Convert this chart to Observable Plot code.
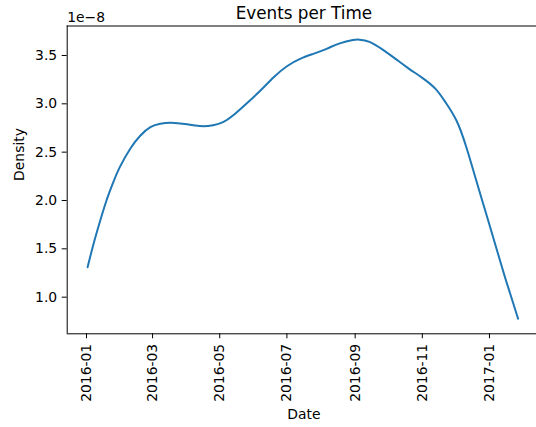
<!DOCTYPE html>
<html>
<head>
<meta charset="utf-8">
<script src="https://cdn.jsdelivr.net/npm/d3@7"></script>
<script src="https://cdn.jsdelivr.net/npm/@observablehq/plot@0.6"></script>
<style>
  html, body { margin: 0; padding: 0; background: #fff; }
  #chart { width: 536px; height: 427px; }
</style>
</head>
<body>
<div id="chart"></div>
<script>
// Data (density in units of 1e-8)
const dates = [
  "2016-01-02","2016-01-07","2016-01-13","2016-01-19","2016-01-25","2016-01-31",
  "2016-02-10","2016-02-19","2016-02-28","2016-03-08","2016-03-17","2016-03-26",
  "2016-04-07","2016-04-16","2016-04-25","2016-05-04","2016-05-13","2016-05-25",
  "2016-06-07","2016-06-19","2016-07-01","2016-07-13","2016-07-25","2016-08-06",
  "2016-08-18","2016-08-30","2016-09-05","2016-09-14","2016-09-26","2016-10-08",
  "2016-10-20","2016-11-01","2016-11-13","2016-11-22","2016-12-02","2016-12-11",
  "2016-12-20","2016-12-29","2017-01-07","2017-01-16","2017-01-27"
];
const density = [
  1.310, 1.535, 1.775, 1.995, 2.180, 2.340,
  2.540, 2.672, 2.758, 2.793, 2.803, 2.796,
  2.779, 2.768, 2.779, 2.810, 2.879, 3.000,
  3.138, 3.275, 3.389, 3.465, 3.517, 3.569,
  3.625, 3.660, 3.664, 3.640, 3.560, 3.462,
  3.362, 3.269, 3.155, 3.017, 2.827, 2.551,
  2.207, 1.862, 1.517, 1.173, 0.777
];
const xTicks = ["2016-01-01","2016-03-01","2016-05-01","2016-07-01","2016-09-01","2016-11-01","2017-01-01"];
const yTicks = [1.0, 1.5, 2.0, 2.5, 3.0, 3.5];
const xDomain = ["2015-12-14T11:00:00Z", "2017-02-12T17:00:00Z"];
const yDomain = [0.621, 3.805];
const title = "Events per Time";
const xLabel = "Date";
const yLabel = "Density";
const offsetText = "1e\u22128";

const data = dates.map((d, i) => ({date: new Date(d + "T00:00:00Z"), value: density[i]}));
const xd = xDomain.map(d => new Date(d));

const plot = Plot.plot({
  width: 536,
  height: 427,
  marginLeft: 66.7,
  marginRight: 0,
  marginTop: 25.5,
  marginBottom: 93.7,
  style: {fontFamily: "'DejaVu Sans', sans-serif", fontSize: "13.9px", color: "#000", background: "#fff"},
  x: {type: "utc", domain: xd},
  y: {domain: yDomain},
  marks: [
    Plot.line(data, {x: "date", y: "value", stroke: "#1f77b4", strokeWidth: 2, curve: "natural"}),
    Plot.ruleX([xd[0]], {stroke: "#000", strokeWidth: 1}),
    Plot.ruleY(yDomain, {stroke: "#000", strokeWidth: 1}),
    Plot.axisX({
      ticks: xTicks.map(d => new Date(d + "T00:00:00Z")),
      tickFormat: d3.utcFormat("%Y-%m"),
      tickRotate: -90,
      tickSize: 5,
      tickPadding: 5,
      label: null,
      stroke: "#000",
      fill: "#000"
    }),
    Plot.axisY({
      ticks: yTicks,
      tickFormat: d3.format(".1f"),
      tickSize: 5,
      tickPadding: 5,
      label: null,
      stroke: "#000",
      fill: "#000"
    }),
    Plot.text([title], {frameAnchor: "top", lineAnchor: "middle", dx: 2, dy: -12.6, fontSize: 16.8, fill: "#000"}),
    Plot.text([offsetText], {frameAnchor: "top-left", lineAnchor: "middle", textAnchor: "start", dy: -8.5, fontSize: 13.9, fill: "#000"}),
    Plot.text([xLabel], {frameAnchor: "bottom", lineAnchor: "middle", dx: 2, dy: 80.7, fontSize: 13.9, fill: "#000"}),
    Plot.text([yLabel], {frameAnchor: "left", lineAnchor: "middle", rotate: -90, dx: -47.2, dy: 1, fontSize: 13.9, fill: "#000"})
  ]
});
document.getElementById("chart").appendChild(plot);
</script>
</body>
</html>
